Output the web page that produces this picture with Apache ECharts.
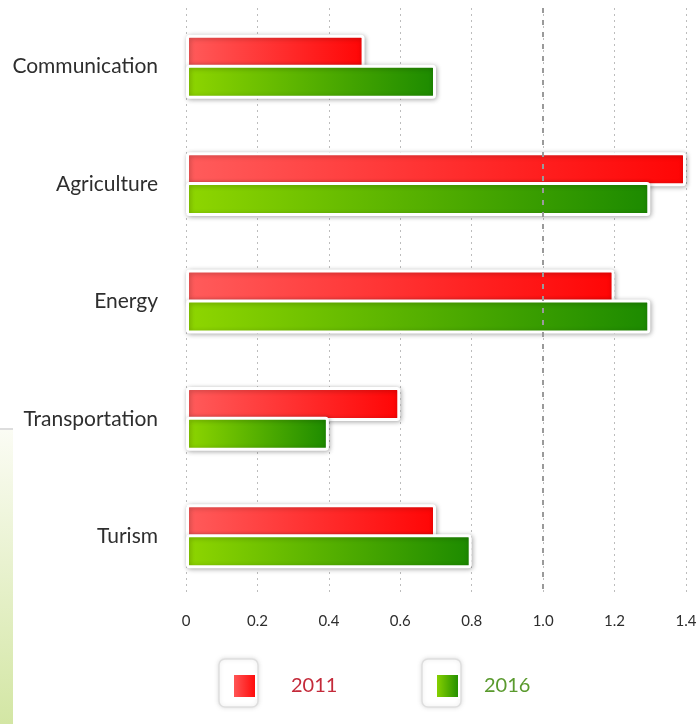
<!DOCTYPE html>
<html>
<head>
<meta charset="utf-8">
<script src="https://cdn.jsdelivr.net/npm/echarts@6/dist/echarts.min.js"></script>
<style>
  html, body { margin: 0; padding: 0; background: #ffffff; }
  #chart { width: 700px; height: 724px; }
</style>
</head>
<body>
<div id="chart"></div>
<script>
// Sectors shown on the vertical axis, top to bottom
const sectors = ['Communication', 'Agriculture', 'Energy', 'Transportation', 'Turism'];
// Values per sector for each year
const values2011 = [0.5, 1.4, 1.2, 0.6, 0.7];
const values2016 = [0.7, 1.3, 1.3, 0.4, 0.8];
// Tick labels along the value axis
const tickLabels = ['0', '0.2', '0.4', '0.6', '0.8', '1.0', '1.2', '1.4'];

const FONT = 'Lato, "Open Sans", sans-serif';

const redFill = new echarts.graphic.LinearGradient(0, 0, 1, 0, [
  { offset: 0, color: '#ff5c5c' },
  { offset: 1, color: '#ff0505' }
]);
const greenFill = new echarts.graphic.LinearGradient(0, 0, 1, 0, [
  { offset: 0, color: '#8fd600' },
  { offset: 1, color: '#1c8a00' }
]);

const barStyle = (fill) => ({
  color: fill,
  borderColor: '#ffffff',
  borderWidth: 3,
  borderRadius: 2,
  shadowColor: 'rgba(0,0,0,0.28)',
  shadowBlur: 5,
  shadowOffsetX: 1,
  shadowOffsetY: 1
});

const chart = echarts.init(document.getElementById('chart'), null, { renderer: 'canvas' });

chart.setOption({
  animation: false,
  backgroundColor: '#ffffff',
  grid: { left: 186, right: 14, top: 8, bottom: 129 },
  xAxis: {
    type: 'value',
    min: 0,
    max: 1.4,
    interval: 0.2,
    axisLine: { show: false },
    axisTick: { show: false },
    axisLabel: {
      margin: 19,
      color: '#2e2e2e',
      fontFamily: FONT,
      fontSize: 15,
      formatter: (v) => tickLabels[Math.round(v / 0.2)]
    },
    splitLine: {
      show: true,
      lineStyle: { color: '#bdbdbd', width: 1, type: [2, 4] }
    }
  },
  yAxis: {
    type: 'category',
    inverse: true,
    data: sectors,
    axisLine: { show: false },
    axisTick: { show: false },
    axisLabel: {
      margin: 28,
      color: '#2e2e2e',
      fontFamily: FONT,
      fontSize: 21
    },
    splitLine: { show: false }
  },
  legend: [
    {
      data: [{ name: '2011', textStyle: { color: '#c42a3a' } }],
      left: 227, top: 668,
      icon: 'rect', itemWidth: 23, itemHeight: 24,
      textStyle: { fontFamily: FONT, fontSize: 20, padding: [4, 0, 0, 30] }
    },
    {
      data: [{ name: '2016', textStyle: { color: '#5a9a2e' } }],
      left: 430, top: 668,
      icon: 'rect', itemWidth: 23, itemHeight: 24,
      textStyle: { fontFamily: FONT, fontSize: 20, padding: [4, 0, 0, 20] }
    }
  ],
  graphic: [
    // pale green strip on the left edge
    {
      type: 'rect', z: -10, silent: true,
      shape: { x: 0, y: 430, width: 13, height: 294 },
      style: {
        fill: new echarts.graphic.LinearGradient(0, 0, 0, 1, [
          { offset: 0, color: '#fbfcf4' },
          { offset: 1, color: '#d3e6a4' }
        ])
      }
    },
    {
      type: 'line', z: -10, silent: true,
      shape: { x1: 0, y1: 429, x2: 13, y2: 429 },
      style: { stroke: '#dddddd', lineWidth: 2 }
    },
    // rounded frames behind the legend swatches
    {
      type: 'rect', z: 0, silent: true,
      shape: { x: 219, y: 659, width: 39, height: 48, r: 6 },
      style: { fill: '#ffffff', stroke: '#dedede', lineWidth: 1.5,
               shadowColor: 'rgba(0,0,0,0.12)', shadowBlur: 4 }
    },
    {
      type: 'rect', z: 0, silent: true,
      shape: { x: 422, y: 659, width: 39, height: 48, r: 6 },
      style: { fill: '#ffffff', stroke: '#dedede', lineWidth: 1.5,
               shadowColor: 'rgba(0,0,0,0.12)', shadowBlur: 4 }
    }
  ],
  series: [
    {
      name: '2011',
      type: 'bar',
      data: values2011,
      barWidth: 34,
      barGap: '-12%',
      itemStyle: barStyle(redFill),
      markLine: {
        silent: true,
        symbol: 'none',
        label: { show: false },
        lineStyle: { color: '#9a9a9a', width: 2, type: [5, 7] },
        data: [{ xAxis: 1.0 }]
      }
    },
    {
      name: '2016',
      type: 'bar',
      data: values2016,
      barWidth: 34,
      itemStyle: barStyle(greenFill)
    }
  ]
});
</script>
</body>
</html>
